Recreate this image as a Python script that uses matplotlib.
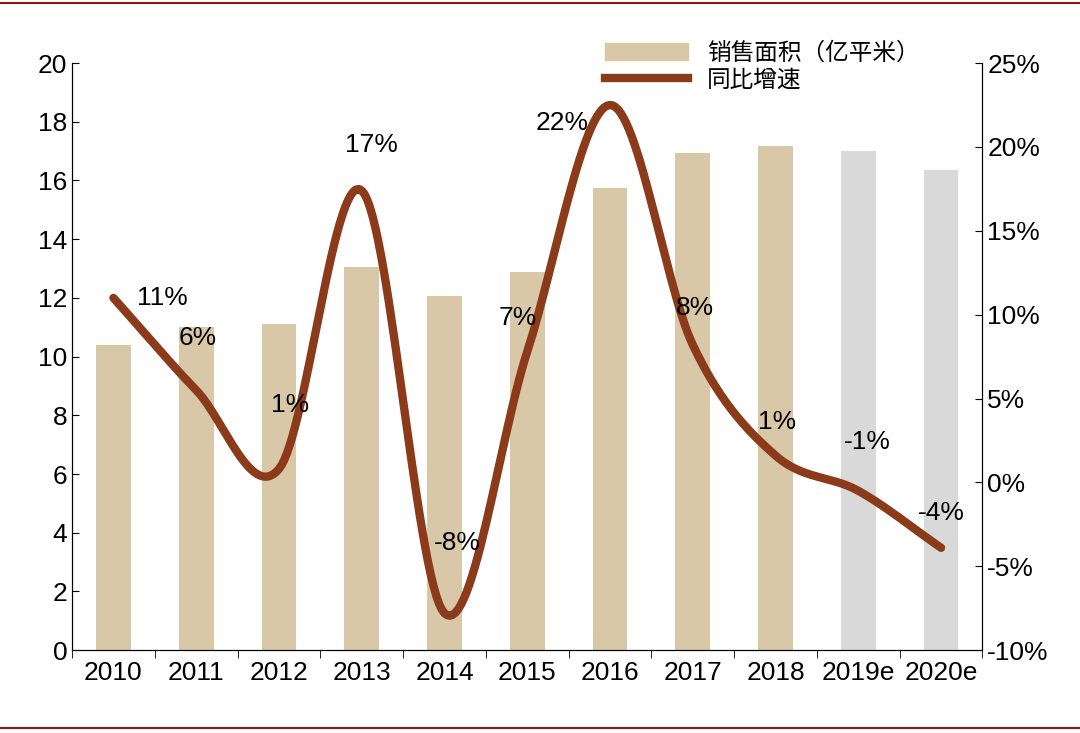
import numpy as np
import matplotlib
matplotlib.use("Agg")
import matplotlib.pyplot as plt
from matplotlib.lines import Line2D

years = ["2010","2011","2012","2013","2014","2015","2016","2017","2018","2019e","2020e"]
area = [10.4, 11.0, 11.1, 13.05, 12.06, 12.88, 15.74, 16.93, 17.17, 17.0, 16.35]
growth = [11.0, 5.5, 0.8, 17.4, -7.8, 7.8, 22.5, 8.2, 1.6, -0.5, -3.9]
labels = ["11%","6%","1%","17%","-8%","7%","22%","8%","1%","-1%","-4%"]
label_x = [0.59, 1.02, 2.13, 3.12, 4.16, 4.88, 5.42, 7.02, 8.02, 9.11, 10.0]
label_y = [11.0, 8.6, 4.6, 20.1, -3.6, 9.8, 21.4, 10.4, 3.6, 2.4, -1.8]

plt.rcParams["font.family"] = ["Liberation Sans", "Noto Sans CJK SC", "Noto Sans CJK JP"]
fig = plt.figure(figsize=(10.8, 7.33), dpi=100)
ax = fig.add_axes([0.0667, 0.113, 0.843, 0.801])
x = np.arange(len(years))
colors = ["#D9C8A8"]*9 + ["#D9D9D9"]*2
ax.bar(x, area, width=0.42, color=colors, zorder=1)
ax.set_ylim(0, 20)
ax.set_yticks(range(0, 21, 2))
ax.set_xlim(-0.5, len(years)-0.5)
ax.set_xticks(x)
ax.set_xticklabels(years)
ax.set_xticks(np.arange(-0.5, len(years), 1), minor=True)
ax.tick_params(axis="x", which="major", length=0, labelsize=19, pad=8)
ax.tick_params(axis="x", which="minor", length=6, direction="out")
ax.tick_params(axis="y", labelsize=19, direction="in", length=5)
ax.spines["top"].set_visible(False)

ax2 = ax.twinx()
pts = np.column_stack([x, growth]).astype(float)
P = np.vstack([pts[0]*2-pts[1], pts, pts[-1]*2-pts[-2]])
curve = []
for i in range(1, len(P)-2):
    p0, p1, p2, p3 = P[i-1], P[i], P[i+1], P[i+2]
    for t in np.linspace(0, 1, 30, endpoint=False):
        t2, t3 = t*t, t*t*t
        curve.append(0.5*((2*p1) + (-p0+p2)*t + (2*p0-5*p1+4*p2-p3)*t2 + (-p0+3*p1-3*p2+p3)*t3))
curve.append(pts[-1])
curve = np.array(curve)
ax2.plot(curve[:,0], curve[:,1], color="#8B3A1A", lw=6, solid_capstyle="round", zorder=3)
ax2.set_ylim(-10, 25)
ax2.set_yticks(range(-10, 26, 5))
ax2.set_yticklabels([f"{v}%" for v in range(-10, 26, 5)])
ax2.tick_params(axis="y", labelsize=19, direction="in", length=5)
ax2.spines["top"].set_visible(False)
for lx, ly, t in zip(label_x, label_y, labels):
    ax2.text(lx, ly, t, fontsize=19, ha="center", va="center", zorder=4)

handles = [plt.Rectangle((0,0),1,1,color="#D9C8A8"), Line2D([],[],color="#8B3A1A",lw=6)]
fig.legend(handles, ["销售面积（亿平米）","同比增速"], loc="upper left",
           bbox_to_anchor=(0.545, 0.965), frameon=False,
           prop={"size":17}, handlelength=3.5,
           labelspacing=0.2, borderpad=0.2)
fig.add_artist(Line2D([0,1],[0.996,0.996], color="#8B1A1A", lw=1.5))
fig.add_artist(Line2D([0,1],[0.007,0.007], color="#8B1A1A", lw=1.5))
fig.savefig("out.png", dpi=100)
